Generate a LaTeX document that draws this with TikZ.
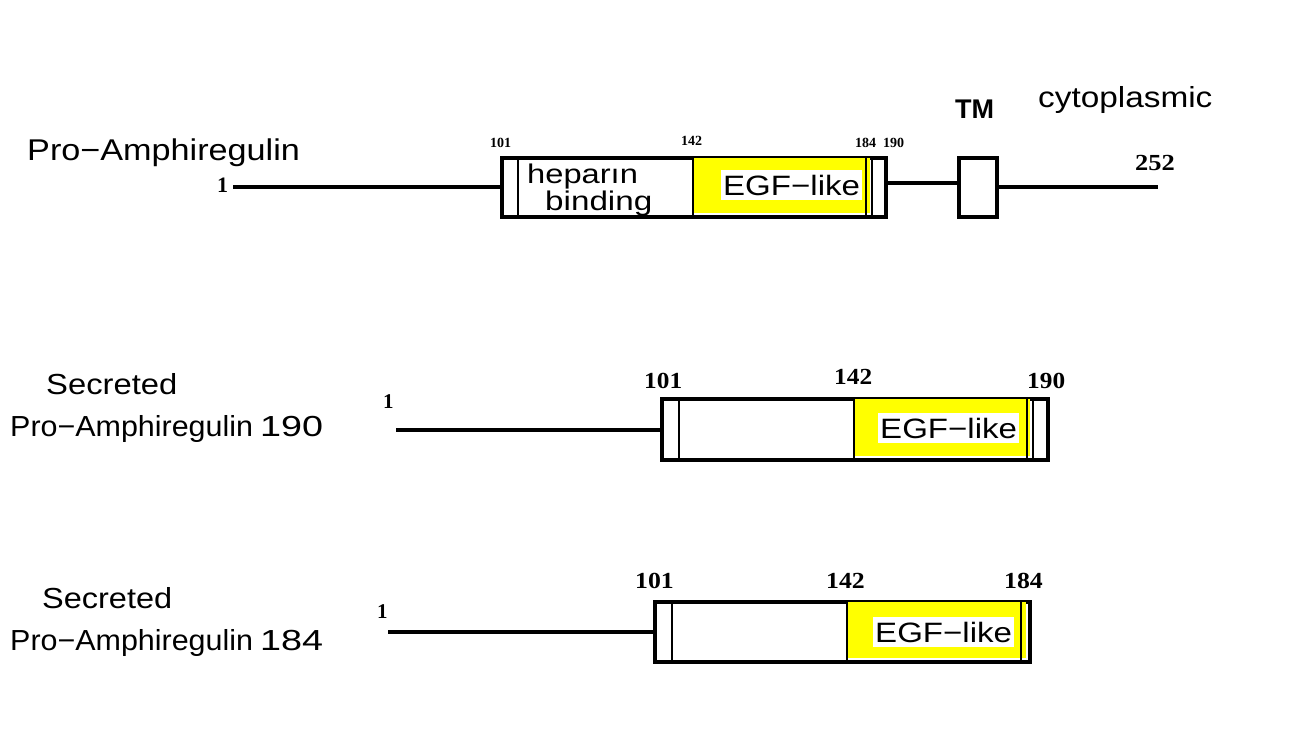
\documentclass[tikz,border=0pt]{standalone}
\usepackage{fontspec}
\usepackage{graphicx}
\setmainfont{Liberation Sans}
\newfontfamily\numfont{Liberation Serif}
\newcommand{\sx}[2]{\scalebox{#1}[1]{#2}}
\definecolor{egf}{RGB}{255,255,0}
\begin{document}
\begin{tikzpicture}[x=1pt,y=-1pt,
  pbox/.style={draw, line width=4pt, fill=white, inner sep=0pt, anchor=north west},
  chainline/.style={line width=4pt},
  divider/.style={line width=2.8pt},
  lab/.style={inner sep=0pt, anchor=base west},
  twoline/.style={inner sep=0pt, anchor=base west, align=left},
  num/.style={inner sep=0pt, anchor=base west},
  egfbg/.style={fill=white, inner xsep=2pt, inner ysep=5pt, anchor=base west, font=\fontsize{28}{32}\selectfont}
]
\useasboundingbox (0,0) rectangle (1311,729);
\fill[white] (0,0) rectangle (1311,729);

% ---------- Row 1: Pro-Amphiregulin ----------
\node[lab, font=\fontsize{30}{34}\selectfont] (t1) at (27,160) {\sx{1.14}{Pro−Amphiregulin}};
\node[num, font=\numfont\bfseries\fontsize{22}{26}\selectfont] (one1) at (217,192) {1};
\coordinate (s1) at (233,187);
\node[pbox, minimum width=384, minimum height=59] (b1) at (500,156) {};
\fill[egf] (693,158) rectangle (870,213);
\draw[divider] (518,156) -- (518,215);
\draw[divider] (693,156) -- (693,215);
\draw[divider] (866,156) -- (866,215);
\draw[divider] (872,156) -- (872,215);
\node[egfbg] (e1) at (721,195) {\sx{1.18}{EGF−like}};
\node[twoline, font=\fontsize{27}{23}\selectfont] (hep) at (527,210) {\sx{1.21}{heparın}\\\hspace*{18pt}\sx{1.23}{binding}};
\draw[chainline] (s1) -- (b1.west |- s1);
\node[pbox, minimum width=38, minimum height=59] (tm) at (957,156) {};
\draw[chainline] (b1.east |- 0,183) -- (tm.west |- 0,183);
\coordinate (end1) at (1158,187);
\draw[chainline] (tm.east |- end1) -- (end1);
\node[num, font=\numfont\bfseries\fontsize{14}{16}\selectfont] (n101a) at (490,147) {101};
\node[num, font=\numfont\bfseries\fontsize{14}{16}\selectfont] (n142a) at (681,145) {142};
\node[num, font=\numfont\bfseries\fontsize{14}{16}\selectfont] (n184a) at (855,147) {184};
\node[num, font=\numfont\bfseries\fontsize{14}{16}\selectfont] (n190a) at (883,147) {190};
\node[num, font=\numfont\bfseries\fontsize{23}{26}\selectfont] (n252) at (1135,170) {\sx{1.15}{252}};
\node[lab, font=\bfseries\fontsize{27}{31}\selectfont] (tmlab) at (955,118) {TM};
\node[lab, font=\fontsize{29}{33}\selectfont] (cyto) at (1038,107) {\sx{1.15}{cytoplasmic}};

% ---------- Row 2: Secreted 190 ----------
\node[twoline, font=\fontsize{29}{42}\selectfont] (t2) at (10,436) {\hspace*{36pt}\sx{1.13}{Secreted}\\\sx{1.05}{Pro−Amphiregulin}\hspace{7pt}\sx{1.3}{190}};
\node[num, font=\numfont\bfseries\fontsize{21}{24}\selectfont] (one2) at (383,408) {1};
\coordinate (s2) at (396,430);
\node[pbox, minimum width=386, minimum height=61] (b2) at (660,397) {};
\fill[egf] (854,399) rectangle (1030,456);
\draw[divider] (679,397) -- (679,458);
\draw[divider] (854,397) -- (854,458);
\draw[divider] (1027,397) -- (1027,458);
\draw[divider] (1033,397) -- (1033,458);
\node[egfbg] (e2) at (878,438) {\sx{1.18}{EGF−like}};
\draw[chainline] (s2) -- (b2.west |- s2);
\node[num, font=\numfont\bfseries\fontsize{23}{26}\selectfont] (n101b) at (644,388) {\sx{1.1}{101}};
\node[num, font=\numfont\bfseries\fontsize{23}{26}\selectfont] (n142b) at (834,384) {\sx{1.1}{142}};
\node[num, font=\numfont\bfseries\fontsize{23}{26}\selectfont] (n190b) at (1027,388) {\sx{1.1}{190}};

% ---------- Row 3: Secreted 184 ----------
\node[twoline, font=\fontsize{29}{42}\selectfont] (t3) at (10,650) {\hspace*{32pt}\sx{1.12}{Secreted}\\\sx{1.05}{Pro−Amphiregulin}\hspace{7pt}\sx{1.3}{184}};
\node[num, font=\numfont\bfseries\fontsize{21}{24}\selectfont] (one3) at (377,618) {1};
\coordinate (s3) at (388,632);
\node[pbox, minimum width=375, minimum height=60] (b3) at (653,600) {};
\fill[egf] (847,602) rectangle (1026,658);
\draw[divider] (672,600) -- (672,660);
\draw[divider] (847,600) -- (847,660);
\draw[divider] (1021,600) -- (1021,660);
\node[egfbg] (e3) at (873,642) {\sx{1.18}{EGF−like}};
\draw[chainline] (s3) -- (b3.west |- s3);
\node[num, font=\numfont\bfseries\fontsize{23}{26}\selectfont] (n101c) at (635,588) {\sx{1.12}{101}};
\node[num, font=\numfont\bfseries\fontsize{23}{26}\selectfont] (n142c) at (826,588) {\sx{1.12}{142}};
\node[num, font=\numfont\bfseries\fontsize{23}{26}\selectfont] (n184c) at (1004,588) {\sx{1.12}{184}};
\end{tikzpicture}
\end{document}
